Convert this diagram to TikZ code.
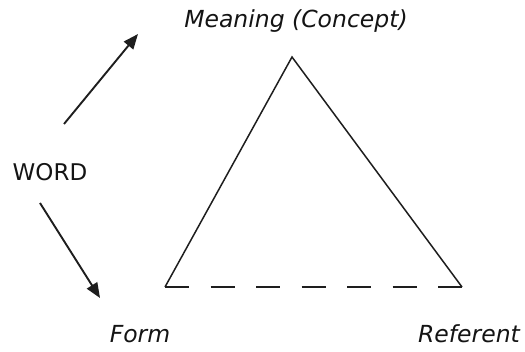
\documentclass[tikz,border=0pt]{standalone}
\usepackage{fontspec}
\setmainfont{DejaVu Sans}
\usetikzlibrary{
  arrows.meta,
  positioning
}
\definecolor{linecolor}{RGB}{30, 30, 30}
\definecolor{labelcolor}{RGB}{20, 20, 20}
\tikzset{
labeltext/.style={
  font=\fontsize{23}{27}\selectfont,
  text=labelcolor,
  inner sep=0pt
},
cornerlabel/.style={
  labeltext,
  font=\fontsize{23.5}{27}\selectfont\itshape
},
side/.style={
  draw=linecolor,
  line width=1.5pt
},
baseline/.style={
  side,
  dash pattern=on 24pt off 21.5pt
},
arrow/.style={
  -{Triangle[length=15pt,width=12pt]},
  line width=1.9pt,
  draw=linecolor
}
}

\begin{document}
\begin{tikzpicture}[x=1pt,y=-1pt]
  \useasboundingbox (0,0) rectangle (525,352);
  % triangle corners
  \coordinate (top) at (292,57);
  \coordinate (formcorner) at (165,287);
  \coordinate (refcorner) at (462,287);
  \draw[side] (formcorner) -- (top) -- (refcorner);
  \draw[baseline] (formcorner) -- (refcorner);
  % labels
  \node[cornerlabel] (meaning) at (296,21) {Meaning (Concept)};
  \node[cornerlabel] (form) at (140,334) {Form};
  \node[cornerlabel] (referent) at (469,334) {Referent};
  \node[labeltext] (word) at (50,172) {WORD};
  % arrows out of the word
  \coordinate (upstart) at (64,124);
  \coordinate (upend) at (138,34);
  \coordinate (downstart) at (40,203);
  \coordinate (downend) at (100,298);
  \draw[arrow] (upstart) -- (upend);
  \draw[arrow] (downstart) -- (downend);
\end{tikzpicture}
\end{document}
